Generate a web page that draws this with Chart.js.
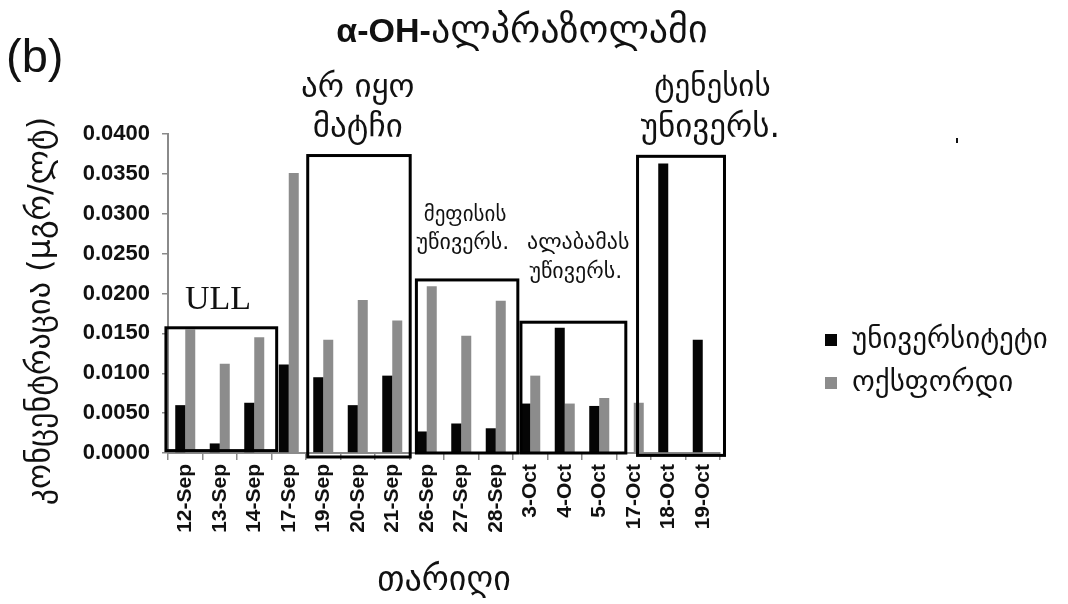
<!DOCTYPE html>
<html>
<head>
<meta charset="utf-8">
<script src="https://cdn.jsdelivr.net/npm/chart.js@4.4.1/dist/chart.umd.min.js"></script>
<style>
  html, body { margin: 0; padding: 0; background: #fff; }
  #wrap { width: 1068px; height: 604px; position: relative; }
</style>
</head>
<body>
<div id="wrap"><canvas id="c" width="1068" height="604"></canvas></div>
<script>
// Sampling dates
const dates = ['12-Sep', '13-Sep', '14-Sep', '17-Sep', '19-Sep', '20-Sep', '21-Sep',
               '26-Sep', '27-Sep', '28-Sep', '3-Oct', '4-Oct', '5-Oct', '17-Oct', '18-Oct', '19-Oct'];

// α-OH-alprazolam concentration (µg/L)
const universityValues = [0.0060, 0.0012, 0.0063, 0.0111, 0.0095, 0.0060, 0.0097,
                          0.0027, 0.0037, 0.0031, 0.0062, 0.0157, 0.0059, 0, 0.0363, 0.0142];
const oxfordValues     = [0.0155, 0.0112, 0.0145, 0.0351, 0.0142, 0.0192, 0.0166,
                          0.0209, 0.0147, 0.0191, 0.0097, 0.0062, 0.0069, 0.0063, 0, 0];

const seriesNames = ['უნივერსიტეტი', 'ოქსფორდი'];
const seriesColors = ['#050505', '#8c8c8c'];

const yTicksMax = 0.04;
const yTickStep = 0.005;

// Framed game groups: [first index edge, last index edge, top value, bottom value]
const groupBoxes = [
  [-0.56, 2.65, 0.0157, 0.0003],
  [3.55, 6.52, 0.0373, -0.0005],
  [6.70, 9.64, 0.0217, 0.0],
  [9.73, 12.77, 0.0164, 0.0],
  [13.11, 15.63, 0.0372, -0.0003]
];

// Group captions: [text, index, value, font]
const GEO = '"DejaVu Sans", "Noto Sans", sans-serif';
const groupCaptions = [
  ['ULL', 0.95, 0.0192, '34px "Liberation Serif", serif'],
  ['არ იყო', 5.0, 0.04577, '33px ' + GEO],
  ['მატჩი', 5.0, 0.04075, '33px ' + GEO],
  ['მეფისის', 8.11, 0.0298, '21px ' + GEO],
  ['უწივერს.', 8.05, 0.0263, '22px ' + GEO],
  ['ალაბამას', 11.39, 0.0263, '22px ' + GEO],
  ['უწივერს.', 11.32, 0.0227, '22px ' + GEO],
  ['ტენესის', 15.28, 0.04577, '31px ' + GEO],
  ['უნივერს.', 15.22, 0.04075, '33px ' + GEO]
];

const CHART_LEFT = 168, CHART_RIGHT = 720, CHART_TOP = 134, CHART_BOTTOM = 453;
const W = 1068, H = 604;

const overlay = {
  id: 'overlay',
  afterDatasetsDraw(chart) {
    const ctx = chart.ctx;
    const xs = chart.scales.x, ys = chart.scales.y;
    const c0 = xs.getPixelForValue(0);
    const step = xs.getPixelForValue(1) - c0;
    const px = i => c0 + i * step;

    ctx.save();
    ctx.strokeStyle = '#000';
    ctx.lineWidth = 3;
    groupBoxes.forEach(b => {
      const x1 = px(b[0]), x2 = px(b[1]);
      const y1 = ys.getPixelForValue(b[2]), y2 = ys.getPixelForValue(b[3]);
      ctx.strokeRect(x1, y1, x2 - x1, y2 - y1);
    });

    ctx.fillStyle = '#111';
    ctx.textBaseline = 'middle';
    ctx.textAlign = 'center';
    groupCaptions.forEach(t => {
      ctx.font = t[3];
      ctx.fillText(t[0], px(t[1]), ys.getPixelForValue(t[2]));
    });
    ctx.restore();
  },
  afterDraw(chart) {
    const ctx = chart.ctx;
    ctx.save();
    ctx.fillStyle = '#111';
    ctx.textBaseline = 'alphabetic';

    // Panel letter
    ctx.font = '47px "Liberation Sans", Arial, sans-serif';
    ctx.textAlign = 'left';
    ctx.fillText('(b)', 6, 72);

    // Title: bold prefix followed by Georgian name
    const pre = 'α-OH-';
    const rest = 'ალპრაზოლამი';
    const fPre = 'bold 34px "Liberation Sans", Arial, sans-serif';
    const fRest = '38px ' + GEO;
    ctx.font = fPre; const wPre = ctx.measureText(pre).width;
    ctx.font = fRest; const wRest = ctx.measureText(rest).width;
    const x0 = 522 - (wPre + wRest) / 2;
    ctx.font = fPre; ctx.fillText(pre, x0, 42);
    ctx.font = fRest; ctx.fillText(rest, x0 + wPre, 42);

    // Vertical axis title
    ctx.save();
    ctx.translate(42, 311);
    ctx.rotate(-Math.PI / 2);
    ctx.textAlign = 'center';
    ctx.textBaseline = 'middle';
    ctx.font = '32px ' + GEO;
    ctx.fillText('კონცენტრაცია (μგრ/ლტ)', 0, 0);
    ctx.restore();

    // Small stray mark near top right
    ctx.fillRect(956, 138, 2, 5);

    // Legend
    const lx = 825, ly = [340, 383];
    ctx.textBaseline = 'middle';
    ctx.textAlign = 'left';
    ctx.font = '29px ' + GEO;
    chart.data.datasets.forEach((ds, i) => {
      ctx.fillStyle = ds.backgroundColor;
      ctx.fillRect(lx, ly[i] - 6, 12, 12);
      ctx.fillStyle = '#111';
      ctx.fillText(ds.label, lx + 27, ly[i]);
    });
    ctx.restore();
  }
};

new Chart(document.getElementById('c'), {
  type: 'bar',
  data: {
    labels: dates,
    datasets: [
      { label: seriesNames[0], data: universityValues, backgroundColor: seriesColors[0] },
      { label: seriesNames[1], data: oxfordValues, backgroundColor: seriesColors[1] }
    ]
  },
  options: {
    responsive: false,
    animation: false,
    devicePixelRatio: 1,
    layout: { padding: { left: 0, top: CHART_TOP, right: W - CHART_RIGHT, bottom: 0 } },
    datasets: { bar: { categoryPercentage: 0.58, barPercentage: 1.0 } },
    plugins: { legend: { display: false }, tooltip: { enabled: false }, title: { display: false } },
    scales: {
      x: {
        afterFit(s) { s.height = H - CHART_BOTTOM; },
        grid: { display: true, drawOnChartArea: false, offset: true, color: '#8a8a8a', tickLength: 7, lineWidth: 1.5 },
        border: { color: '#8a8a8a', width: 2 },
        ticks: {
          color: '#111',
          font: { family: '"Liberation Sans", Arial, sans-serif', size: 21, weight: 'bold' },
          minRotation: 90, maxRotation: 90, autoSkip: false, padding: 4
        },
        title: {
          display: true, text: 'თარიღი', color: '#111',
          font: { family: GEO, size: 34 }, padding: { top: 0, bottom: 2 }
        }
      },
      y: {
        min: 0, max: yTicksMax,
        afterFit(s) { s.width = CHART_LEFT; },
        grid: { display: true, drawOnChartArea: false, color: '#8a8a8a', tickLength: 6, lineWidth: 1.5 },
        border: { color: '#8a8a8a', width: 2 },
        ticks: {
          stepSize: yTickStep, color: '#111', padding: 12,
          font: { family: '"Liberation Sans", Arial, sans-serif', size: 22, weight: 'bold' },
          callback: v => Number(v).toFixed(4)
        }
      }
    }
  },
  plugins: [overlay]
});
</script>
</body>
</html>
